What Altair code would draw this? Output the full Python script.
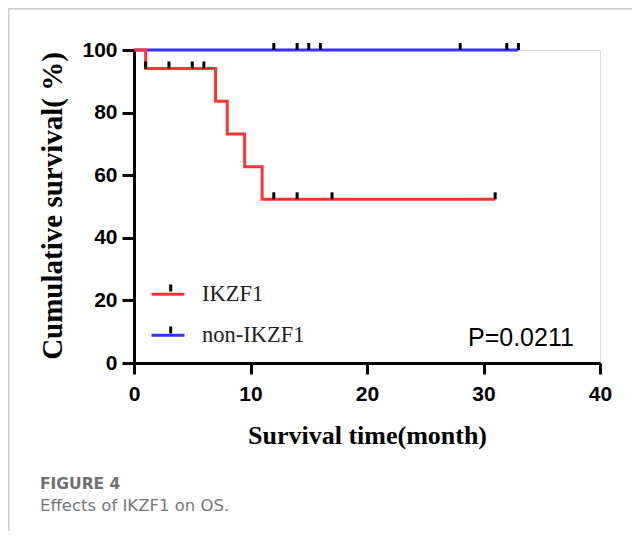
import altair as alt
import pandas as pd

# ---- data ----
groups = ["IKZF1", "non-IKZF1"]
colors = ["#FF3333", "#3333FF"]

ikzf1_time = [0, 1, 7, 8, 9.5, 11, 31]
ikzf1_surv = [100, 94.1, 83.6, 73.2, 62.7, 52.3, 52.3]
non_time = [0, 33]
non_surv = [100, 100]

ikzf1_cens_time = [1, 3, 5, 6, 12, 14, 17, 31]
ikzf1_cens_surv = [94.1, 94.1, 94.1, 94.1, 52.3, 52.3, 52.3, 52.3]
non_cens_time = [12, 14, 15, 16, 28, 32, 33]
non_cens_surv = [100, 100, 100, 100, 100, 100, 100]

x_ticks = [0, 10, 20, 30, 40]
y_ticks = [0, 20, 40, 60, 80, 100]
p_label = "P=0.0211"
fig_label = "FIGURE 4"
caption = "Effects of IKZF1 on OS."

censor_groups = [g + " (censored)" for g in groups]

df_ikzf1 = pd.DataFrame({"group": groups[0], "time": ikzf1_time, "surv": ikzf1_surv})
df_non = pd.DataFrame({"group": groups[1], "time": non_time, "surv": non_surv})
df_cens = pd.concat([
    pd.DataFrame({"cgroup": censor_groups[0], "time": ikzf1_cens_time, "surv": ikzf1_cens_surv}),
    pd.DataFrame({"cgroup": censor_groups[1], "time": non_cens_time, "surv": non_cens_surv}),
])

W, H = 466, 313

xscale = alt.Scale(domain=[0, 40], nice=False, zero=True)
yscale = alt.Scale(domain=[0, 100], nice=False)

xaxis = alt.Axis(values=x_ticks, title="Survival time(month)", grid=False,
                 labelFont="Liberation Sans", labelFontWeight="bold", labelFontSize=21,
                 labelColor="black", labelPadding=9, labelFlush=False,
                 tickSize=11, tickWidth=3, tickColor="black",
                 domainWidth=3, domainColor="black",
                 titleFont="Liberation Serif", titleFontWeight="bold", titleFontSize=26,
                 titleColor="black", titleBaseline="alphabetic", titleY=80, titleX=W / 2)
yaxis = alt.Axis(values=y_ticks, title="Cumulative survival( %)", grid=False,
                 labelFont="Liberation Sans", labelFontWeight="bold", labelFontSize=21,
                 labelColor="black", labelPadding=5,
                 tickSize=12, tickWidth=3, tickColor="black",
                 domainWidth=3, domainColor="black",
                 titleFont="Liberation Serif", titleFontWeight="bold", titleFontSize=29,
                 titleColor="black", titleAngle=270, titleBaseline="alphabetic",
                 titleAlign="center", titleX=-73, titleY=H / 2 - 1)

color_scale = alt.Scale(domain=groups, range=colors)
color_legend = alt.Legend(title=None, orient="none", legendX=16, legendY=226.2,
                          direction="vertical", symbolType="stroke", symbolSize=1089,
                          symbolStrokeWidth=3, labelFont="Liberation Serif",
                          labelFontSize=22.5, labelColor="#222222", labelOffset=16,
                          rowPadding=11, padding=0)

base_x = alt.X("time:Q", scale=xscale, axis=xaxis)
base_y = alt.Y("surv:Q", scale=yscale, axis=yaxis)

line_non = alt.Chart(df_non).mark_line(interpolate="step-after", strokeWidth=3).encode(
    x=base_x, y=base_y,
    color=alt.Color("group:N", scale=color_scale, legend=color_legend),
)
line_ikzf1 = alt.Chart(df_ikzf1).mark_line(interpolate="step-after", strokeWidth=3).encode(
    x=alt.X("time:Q", scale=xscale), y=alt.Y("surv:Q", scale=yscale),
    color=alt.Color("group:N", scale=color_scale, legend=color_legend),
)

tick_path = "M0,-1L0,0"
censor = alt.Chart(df_cens).mark_point(filled=False, color="black", strokeWidth=3,
                                        size=196, opacity=1, strokeCap="butt").encode(
    x=alt.X("time:Q", scale=xscale), y=alt.Y("surv:Q", scale=yscale),
    shape=alt.Shape("cgroup:N",
                    scale=alt.Scale(domain=censor_groups, range=[tick_path, tick_path]),
                    legend=alt.Legend(title=None, orient="none", legendX=25.7, legendY=230.5,
                                      direction="vertical", symbolSize=196,
                                      symbolStrokeColor="black", symbolStrokeWidth=3,
                                      symbolFillColor="transparent",
                                      labelFont="Liberation Serif", labelFontSize=22,
                                      labelOpacity=0, labelExpr="''", labelOffset=16,
                                      rowPadding=18, padding=0)),
)

ptext = alt.Chart(pd.DataFrame({"t": [p_label]})).mark_text(
    font="Liberation Sans", fontSize=25, color="black", align="left", baseline="alphabetic"
).encode(text="t:N", x=alt.value(334), y=alt.value(296))

figtext = alt.Chart(pd.DataFrame({"t": [fig_label]})).mark_text(
    font="DejaVu Sans", fontSize=15.5, fontWeight="bold", color="#707070",
    align="left", baseline="alphabetic"
).encode(text="t:N", x=alt.value(40 - 134), y=alt.value(489 - 50))

captext = alt.Chart(pd.DataFrame({"t": [caption]})).mark_text(
    font="DejaVu Sans", fontSize=16.5, color="#777777",
    align="left", baseline="alphabetic"
).encode(text="t:N", x=alt.value(40 - 134), y=alt.value(511 - 50))

border_top = alt.Chart(pd.DataFrame({"a": [0]})).mark_rule(color="#cccccc", strokeWidth=1.5).encode(
    x=alt.value(-125.5), x2=alt.value(W + 40), y=alt.value(-41.2))
border_left = alt.Chart(pd.DataFrame({"a": [0]})).mark_rule(color="#cccccc", strokeWidth=1.5).encode(
    x=alt.value(-125.2), y=alt.value(-41.5), y2=alt.value(H + 200))

chart = alt.layer(
    border_top, border_left, line_non, line_ikzf1, censor, ptext, figtext, captext
).resolve_scale(color="shared").properties(
    width=W, height=H,
    autosize=alt.AutoSizeParams(type="none"),
    padding={"left": 126, "top": 42, "right": 32, "bottom": 168},
).configure_view(stroke=None).configure(background="white")

chart.save("out.html", embed_options={"renderer": "svg", "actions": False})
